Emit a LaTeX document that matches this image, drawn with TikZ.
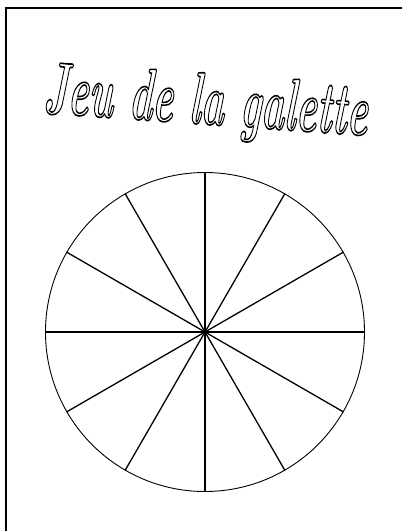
\documentclass[tikz,border=0pt]{standalone}
\tikzset{
  frameline/.style={line width=2pt, draw=black},
  rim/.style={circle, draw, line width=0.9pt, minimum size=319pt, inner sep=0pt},
  spoke/.style={line width=1.3pt},
  titletext/.style={font=\fontsize{74}{74}\selectfont\bfseries\itshape, inner sep=0pt}
}
\newcommand{\outlinetext}[1]{\special{pdf:code q 1 Tr 1.6 w}#1\special{pdf:code Q}}
\begin{document}
\begin{tikzpicture}[x=1pt,y=-1pt]
\clip (0,0) rectangle (402,531);
\fill[white] (0,0) rectangle (402,531);
\draw[frameline] (6,560) -- (6,8) -- (430,8);
\node[titletext, rotate=-4, xscale=0.53] (title) at (206,106) {\outlinetext{Jeu de la galette}};
\node[rim] (g) at (205,332) {};
\foreach \a in {0,30,...,150}{
  \pgfmathtruncatemacro{\b}{\a+180}
  \draw[spoke] (g.\a) -- (g.\b);
}
\end{tikzpicture}
\end{document}
